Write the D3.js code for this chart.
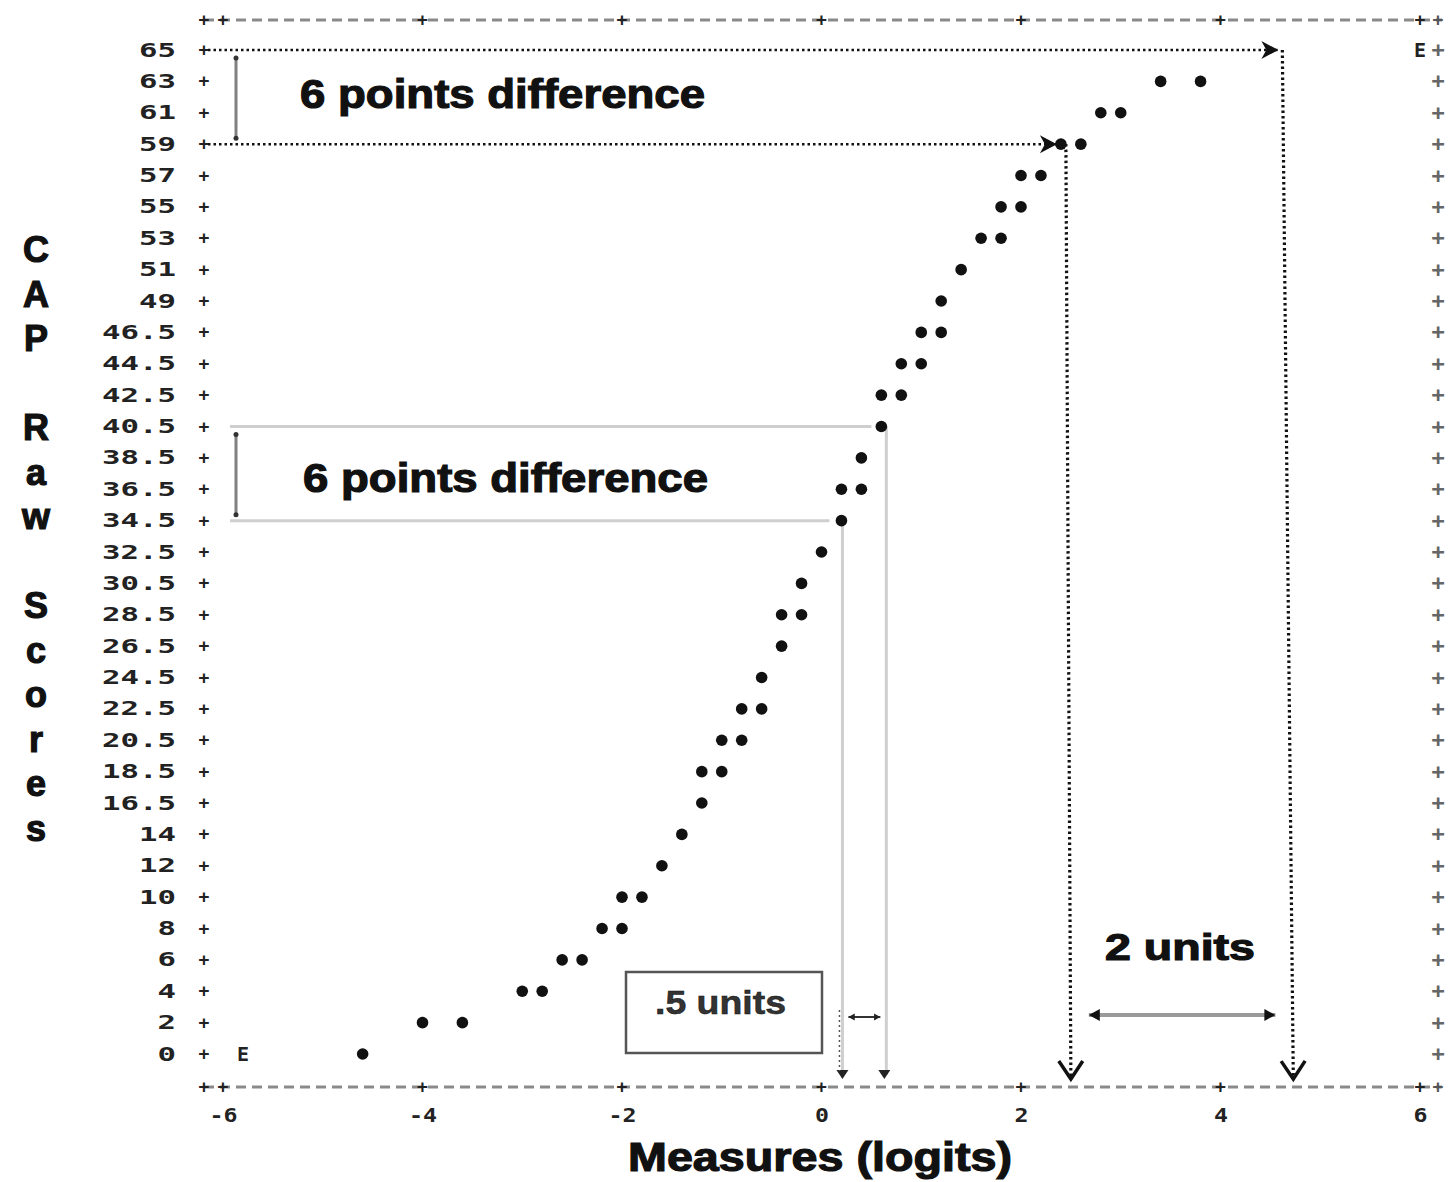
<!DOCTYPE html>
<html>
<head>
<meta charset="utf-8">
<script src="https://cdnjs.cloudflare.com/ajax/libs/d3/7.8.5/d3.min.js"></script>
<style>
  body { margin: 0; background: #fff; }
  svg { display: block; }
  .lbl { font-family: "DejaVu Sans Mono", monospace; font-weight: bold; fill: #222; }
  .big { font-family: "Liberation Sans", Arial, sans-serif; font-weight: bold; fill: #111; stroke: #111; stroke-width: 1.2px; }
</style>
</head>
<body>
<svg id="chart" width="1453" height="1182"></svg>
<script>
// rows of the text plot (raw scores), top to bottom
const rawScores = ['65', '63', '61', '59', '57', '55', '53', '51', '49', '46.5', '44.5', '42.5',
  '40.5', '38.5', '36.5', '34.5', '32.5', '30.5', '28.5', '26.5', '24.5', '22.5', '20.5',
  '18.5', '16.5', '14', '12', '10', '8', '6', '4', '2', '0'];
// person measures (logits) plotted as '*' on each row
const personMeasures = [
  [], [3.4, 3.8], [2.8, 3.0], [2.4, 2.6], [2.0, 2.2], [1.8, 2.0], [1.6, 1.8], [1.4], [1.2],
  [1.0, 1.2], [0.8, 1.0], [0.6, 0.8], [0.6], [0.4], [0.2, 0.4], [0.2], [0.0], [-0.2],
  [-0.4, -0.2], [-0.4], [-0.6], [-0.8, -0.6], [-1.0, -0.8], [-1.2, -1.0], [-1.2], [-1.4],
  [-1.6], [-2.0, -1.8], [-2.2, -2.0], [-2.6, -2.4], [-3.0, -2.8], [-4.0, -3.6], [-4.6]];
// extreme scores, marked 'E'
const extremeScores = ['65', '0'];
const extremeMeasures = [6.0, -5.8];
const xTicks = [-6, -4, -2, 0, 2, 4, 6];

const svg = d3.select('#chart');
const plotLeft = 204, plotRight = 1438, plotTop = 20, plotBottom = 1087;

const x = d3.scaleLinear().domain([-6, 6]).range([223, 1420]);
const y = d3.scalePoint().domain(rawScores).range([50, 1054]);

// markers
const defs = svg.append('defs');
defs.append('marker').attr('id', 'chev').attr('viewBox', '-18 -11 22 22')
  .attr('markerWidth', 22).attr('markerHeight', 22).attr('markerUnits', 'userSpaceOnUse')
  .attr('orient', 'auto').attr('refX', 0).attr('refY', 0)
  .append('path').attr('d', 'M-17,-9 L0,0 L-17,9 L-12,0 Z').attr('fill', '#111');
defs.append('marker').attr('id', 'vee').attr('viewBox', '-20 -14 24 28')
  .attr('markerWidth', 24).attr('markerHeight', 28).attr('markerUnits', 'userSpaceOnUse')
  .attr('orient', 'auto').attr('refX', 0).attr('refY', 0)
  .append('path').attr('d', 'M-18,-12 L0,0 L-18,12').attr('fill', 'none')
  .attr('stroke', '#111').attr('stroke-width', 3.5);
defs.append('marker').attr('id', 'tri').attr('viewBox', '-12 -7 14 14')
  .attr('markerWidth', 14).attr('markerHeight', 14).attr('markerUnits', 'userSpaceOnUse')
  .attr('orient', 'auto-start-reverse').attr('refX', 0).attr('refY', 0)
  .append('path').attr('d', 'M-11,-6 L0,0 L-11,6 Z').attr('fill', '#111');
defs.append('marker').attr('id', 'tiny').attr('viewBox', '-8 -5 10 10')
  .attr('markerWidth', 9).attr('markerHeight', 9).attr('markerUnits', 'userSpaceOnUse')
  .attr('orient', 'auto-start-reverse').attr('refX', 0).attr('refY', 0)
  .append('path').attr('d', 'M-7,-4 L0,0 L-7,4 Z').attr('fill', '#222');

// frame: dashed top and bottom rules
[plotTop, plotBottom].forEach(function (yy) {
  svg.append('line').attr('x1', plotLeft).attr('x2', plotRight + 4).attr('y1', yy).attr('y2', yy)
    .attr('stroke', '#8a8a8a').attr('stroke-width', 3).attr('stroke-dasharray', '10,6');
  xTicks.forEach(function (t) {
    svg.append('text').attr('class', 'lbl').attr('x', x(t)).attr('y', yy + 6)
      .attr('text-anchor', 'middle').attr('font-size', 18).text('+');
  });
  svg.append('text').attr('class', 'lbl').attr('x', plotLeft).attr('y', yy + 6)
    .attr('text-anchor', 'middle').attr('font-size', 18).text('+');
  svg.append('text').attr('class', 'lbl').attr('x', plotRight).attr('y', yy + 6)
    .attr('text-anchor', 'middle').attr('font-size', 18).style('fill', '#555').text('+');
});

// left axis with raw score labels
const yAxis = svg.append('g').attr('transform', `translate(${plotLeft},0)`)
  .call(d3.axisLeft(y).tickSize(0).tickPadding(28));
yAxis.select('.domain').remove();
yAxis.selectAll('text').attr('class', 'lbl').attr('font-size', 19)
  .attr('textLength', d => d.length * 18.5).attr('lengthAdjust', 'spacingAndGlyphs');

// '+' row marks on both sides
svg.append('g').selectAll('text').data(rawScores).join('text')
  .attr('class', 'lbl').attr('x', plotLeft).attr('y', d => y(d) + 6)
  .attr('text-anchor', 'middle').attr('font-size', 18).text('+');
svg.append('g').selectAll('text').data(rawScores).join('text')
  .attr('class', 'lbl').attr('x', plotRight).attr('y', d => y(d) + 7)
  .attr('text-anchor', 'middle').attr('font-size', 22).style('fill', '#666').text('+');

// bottom axis labels
const xAxis = svg.append('g').attr('transform', `translate(0,${plotBottom})`)
  .call(d3.axisBottom(x).tickValues(xTicks).tickSize(0).tickPadding(22).tickFormat(d => String(d)));
xAxis.select('.domain').remove();
xAxis.selectAll('text').attr('class', 'lbl').attr('font-size', 19)
  .attr('textLength', d => String(d).length * 14).attr('lengthAdjust', 'spacingAndGlyphs');

// gray guide lines for the middle "6 points difference"
const gray = svg.append('g').attr('stroke', '#cfcfcf').attr('stroke-width', 3).attr('fill', 'none');
gray.append('line').attr('x1', 230).attr('x2', x(0.5)).attr('y1', y('40.5')).attr('y2', y('40.5'));
gray.append('line').attr('x1', 230).attr('x2', x(0.08)).attr('y1', y('34.5')).attr('y2', y('34.5'));
gray.append('line').attr('x1', x(0.65)).attr('x2', x(0.65)).attr('y1', y('40.5')).attr('y2', plotBottom - 12);
gray.append('line').attr('x1', x(0.21)).attr('x2', x(0.21)).attr('y1', y('34.5')).attr('y2', plotBottom - 12);
[0.21, 0.63].forEach(function (m) {
  svg.append('path').attr('d', `M${x(m) - 6},${plotBottom - 17} L${x(m) + 6},${plotBottom - 17} L${x(m)},${plotBottom - 8} Z`)
    .attr('fill', '#222');
});
svg.append('line').attr('x1', x(0.18)).attr('x2', x(0.18)).attr('y1', 1010).attr('y2', plotBottom - 16)
  .attr('stroke', '#555').attr('stroke-width', 1.5).attr('stroke-dasharray', '2,3');
svg.append('line').attr('x1', x(0.27)).attr('x2', x(0.59)).attr('y1', 1017).attr('y2', 1017)
  .attr('stroke', '#333').attr('stroke-width', 2)
  .attr('marker-start', 'url(#tiny)').attr('marker-end', 'url(#tiny)');

// vertical bracket bars
[['65', '59'], ['40.5', '34.5']].forEach(function (p) {
  const y1 = y(p[0]) + 8, y2 = y(p[1]) - 6;
  svg.append('line').attr('x1', 236).attr('x2', 236).attr('y1', y1).attr('y2', y2)
    .attr('stroke', '#808080').attr('stroke-width', 3);
  [y1, y2].forEach(function (yy) {
    svg.append('circle').attr('cx', 236).attr('cy', yy).attr('r', 2.5).attr('fill', '#333');
  });
});

// dotted black arrows for the top "6 points difference" / "2 units"
const dots = svg.append('g').attr('stroke', '#111').attr('stroke-width', 2.5)
  .attr('stroke-dasharray', '2.5,3').attr('fill', 'none');
dots.append('line').attr('x1', plotLeft + 4).attr('x2', x(4.58)).attr('y1', y('65')).attr('y2', y('65'))
  .attr('marker-end', 'url(#chev)');
dots.append('line').attr('x1', plotLeft + 4).attr('x2', x(2.36)).attr('y1', y('59')).attr('y2', y('59'))
  .attr('marker-end', 'url(#chev)');
dots.append('line').attr('x1', x(4.62)).attr('x2', x(4.73)).attr('y1', y('65')).attr('y2', plotBottom - 8)
  .attr('stroke-width', 3.2).attr('marker-end', 'url(#vee)');
dots.append('line').attr('x1', x(2.45)).attr('x2', x(2.5)).attr('y1', y('59')).attr('y2', plotBottom - 8)
  .attr('stroke-width', 3.2).attr('marker-end', 'url(#vee)');

// "2 units" double arrow
svg.append('line').attr('x1', x(2.68)).attr('x2', x(4.55)).attr('y1', 1015).attr('y2', 1015)
  .attr('stroke', '#9a9a9a').attr('stroke-width', 4)
  .attr('marker-start', 'url(#tri)').attr('marker-end', 'url(#tri)');

// ".5 units" box
svg.append('rect').attr('x', 626).attr('y', 972).attr('width', 196).attr('height', 81)
  .attr('fill', '#fff').attr('stroke', '#555').attr('stroke-width', 2.5);

// person points
const pts = [];
personMeasures.forEach(function (ms, i) {
  ms.forEach(function (m) { pts.push({ score: rawScores[i], m: m }); });
});
svg.append('g').selectAll('circle').data(pts).join('circle')
  .attr('cx', d => x(d.m)).attr('cy', d => y(d.score)).attr('r', 5.8).attr('fill', '#111');

// extreme 'E' marks
svg.append('g').selectAll('text').data(extremeScores).join('text')
  .attr('class', 'lbl').attr('x', (d, i) => x(extremeMeasures[i])).attr('y', d => y(d) + 7)
  .attr('text-anchor', 'middle').attr('font-size', 20).text('E');

// annotation texts
svg.append('text').attr('class', 'big').attr('x', 300).attr('y', 108).attr('font-size', 40)
  .attr('textLength', 405).attr('lengthAdjust', 'spacingAndGlyphs').text('6 points difference');
svg.append('text').attr('class', 'big').attr('x', 303).attr('y', 492).attr('font-size', 40)
  .attr('textLength', 405).attr('lengthAdjust', 'spacingAndGlyphs').text('6 points difference');
svg.append('text').attr('class', 'big').attr('x', 1105).attr('y', 960).attr('font-size', 37)
  .attr('textLength', 150).attr('lengthAdjust', 'spacingAndGlyphs').text('2 units');
svg.append('text').attr('class', 'big').attr('x', 655).attr('y', 1014).attr('font-size', 33)
  .attr('textLength', 131).attr('lengthAdjust', 'spacingAndGlyphs')
  .style('fill', '#333').style('stroke-width', '0.5px').text('.5 units');

// axis titles
svg.append('text').attr('class', 'big').attr('x', 628).attr('y', 1171).attr('font-size', 40)
  .attr('textLength', 384).attr('lengthAdjust', 'spacingAndGlyphs').text('Measures (logits)');
const yTitle = 'CAP Raw Scores'.split('');
svg.append('g').selectAll('text').data(yTitle).join('text')
  .attr('class', 'big').attr('x', 36).attr('y', (d, i) => 262 + i * 44.5)
  .attr('text-anchor', 'middle').attr('font-size', 36).text(d => d);
</script>
</body>
</html>
